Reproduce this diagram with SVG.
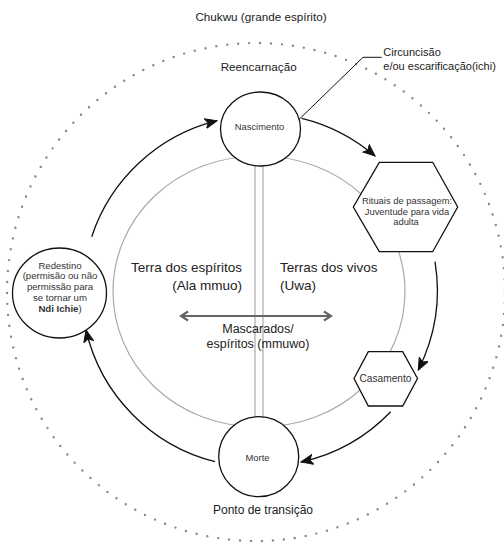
<svg xmlns="http://www.w3.org/2000/svg" width="504" height="546" viewBox="0 0 504 546">
<style>
text{font-family:"Liberation Sans",Arial,sans-serif;fill:#222}
.node{fill:#fff;stroke:#111;stroke-width:1.3}
.gray{fill:none;stroke:#aaa;stroke-width:1.2}
.conn{fill:none;stroke:#111;stroke-width:1.3}
.sm{font-size:9.4px;fill:#333}
.big{font-size:13.5px}
.mid{font-size:12px}
</style>
<defs>
<marker id="ah" markerUnits="userSpaceOnUse" markerWidth="14" markerHeight="12" viewBox="0 0 14 12" refX="12" refY="6" orient="auto">
<path d="M0,1 L12,6 L0,11 L3,6 Z" fill="#111" stroke="#111" stroke-width="1"/>
</marker>
<marker id="oh" markerUnits="userSpaceOnUse" markerWidth="12" markerHeight="12" viewBox="0 0 12 12" refX="10" refY="6" orient="auto-start-reverse">
<path d="M3,1.5 L10,6 L3,10.5" fill="none" stroke="#666" stroke-width="2.2" stroke-linejoin="miter"/>
</marker>
</defs>

<g id="outer-boundary">
<circle cx="256" cy="292" r="249" fill="none" stroke="#888" stroke-width="2.4" stroke-linecap="round" stroke-dasharray="0 11"/>
<text x="261" y="21" text-anchor="middle" style="font-size:11.7px">Chukwu (grande espírito)</text>
</g>

<g id="inner-world">
<path class="gray" d="M255,156.5 A142,135 0 0 0 255,426.5 Z"/>
<path class="gray" d="M263,156.5 A142,135 0 0 1 263,426.5 Z"/>
<text class="big" x="242" y="272" text-anchor="end">Terra dos espíritos</text>
<text class="big" x="242" y="290" text-anchor="end">(Ala mmuo)</text>
<text class="big" x="280" y="272">Terras dos vivos</text>
<text class="big" x="280" y="290">(Uwa)</text>
<text x="258" y="333" text-anchor="middle" style="font-size:12.5px">Mascarados/</text>
<text x="258" y="347.5" text-anchor="middle" style="font-size:12.5px">espíritos (mmuwo)</text>
</g>

<g id="connectors">
<path class="conn" d="M91.7,236.7 A177,177 0 0 1 217,120.7" marker-end="url(#ah)"/>
<path class="conn" d="M301.7,118.3 A177,177 0 0 1 375,156" marker-end="url(#ah)"/>
<path class="conn" d="M435,261.7 A177,177 0 0 1 418.3,370" marker-end="url(#ah)"/>
<path class="conn" d="M390.7,411.7 A177,177 0 0 1 301,462" marker-end="url(#ah)"/>
<path class="conn" d="M215,461.7 A177,177 0 0 1 86,330" marker-end="url(#ah)"/>
<path d="M181,316 L331,316" fill="none" stroke="#666" stroke-width="2.2" marker-start="url(#oh)" marker-end="url(#oh)"/>
<path d="M381.7,57.3 L363,57.3 L293.3,125" fill="none" stroke="#111" stroke-width="1"/>
</g>

<g id="nascimento">
<ellipse class="node" cx="260.5" cy="129" rx="40" ry="37"/>
<text class="sm" x="259.5" y="130" text-anchor="middle">Nascimento</text>
</g>
<g id="reencarnacao-label">
<text x="258.7" y="71" text-anchor="middle" style="font-size:11.7px">Reencarnação</text>
</g>
<g id="circuncisao-label">
<text x="383.3" y="55.6" style="font-size:11px">Circuncisão</text>
<text x="383.3" y="69.6" style="font-size:11px">e/ou escarificação(ichi)</text>
</g>

<g id="rituais">
<polygon class="node" points="353.3,207 379.3,162.3 432.7,162.3 457.7,207 432.7,251.7 379.3,251.7"/>
<text class="sm" x="407" y="204" text-anchor="middle">Rituais de passagem:</text>
<text class="sm" x="407" y="215" text-anchor="middle">Juventude para vida</text>
<text class="sm" x="406" y="225" text-anchor="middle">adulta</text>
</g>

<g id="casamento">
<polygon class="node" points="354,378.5 368.3,351.7 402.7,351.7 417.5,378.5 402.7,406 368.3,406"/>
<text x="385.5" y="381.6" text-anchor="middle" style="font-size:10.2px;fill:#333">Casamento</text>
</g>

<g id="morte">
<circle class="node" cx="258.7" cy="456.7" r="40"/>
<text class="sm" x="257.5" y="461.3" text-anchor="middle">Morte</text>
</g>
<g id="ponto-label">
<text x="263" y="514" text-anchor="middle" style="font-size:12px">Ponto de transição</text>
</g>

<g id="redestino">
<ellipse class="node" cx="59.5" cy="293" rx="47" ry="45"/>
<g style="font-size:9.6px" text-anchor="middle">
<text x="60" y="268.5" style="fill:#333">Redestino</text>
<text x="60" y="279.3" style="fill:#333">(permisão ou não</text>
<text x="60" y="290" style="fill:#333">permissão para</text>
<text x="60" y="300.8" style="fill:#333">se tornar um</text>
<text x="60" y="311.6" style="fill:#333"><tspan font-weight="bold">Ndi Ichie</tspan>)</text>
</g>
</g>
</svg>
